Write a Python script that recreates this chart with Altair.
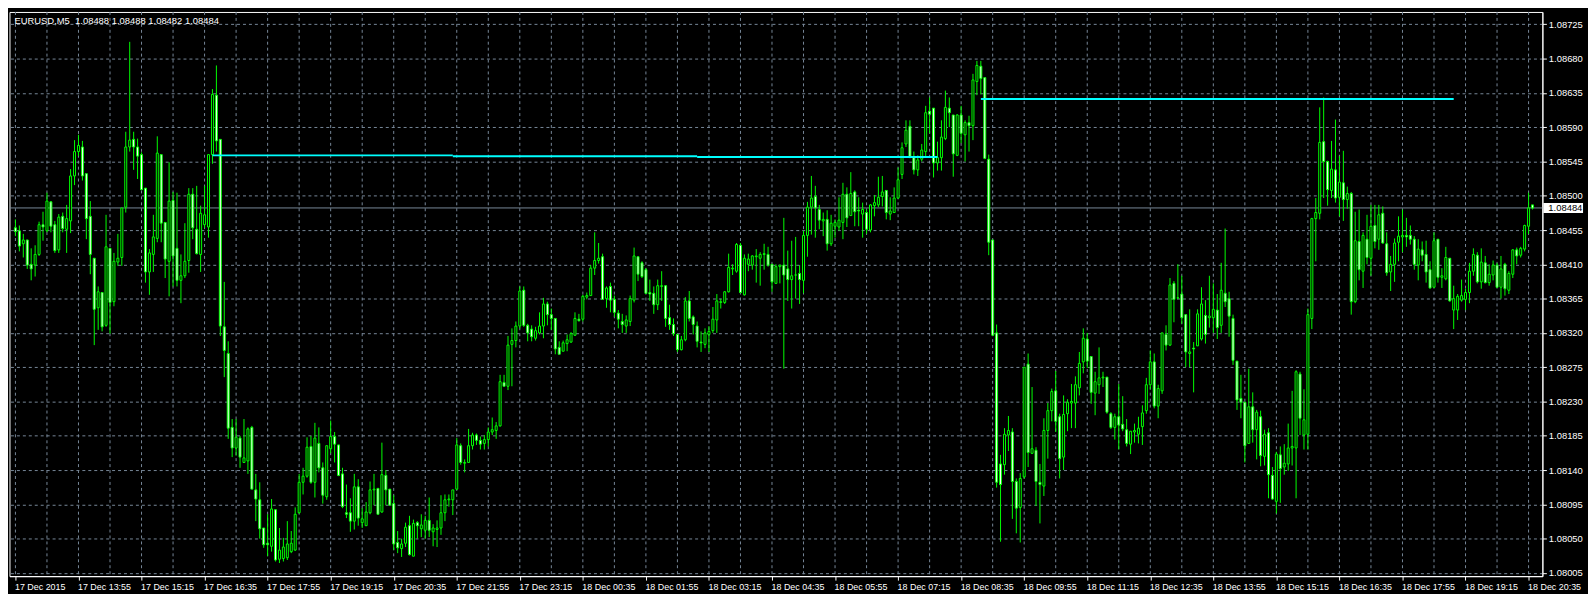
import altair as alt
import pandas as pd

BASE = 1.08
PT = 0.00001

# OHLC in points (0.00001) above 1.08000, one entry per 5-minute bar (17 Dec 12:35 .. 18 Dec 20:40)
open_pts = [
    458, 454, 437, 442, 410, 409, 423, 462, 454, 492,
    462, 429, 473, 456, 467, 526, 558, 564, 529, 473,
    418, 353, 373, 330, 431, 361, 413, 419, 485, 564,
    574, 564, 554, 510, 400, 423, 444, 554, 465, 414,
    494, 431, 389, 395, 415, 502, 456, 423, 462, 459,
    554, 632, 574, 328, 293, 196, 169, 182, 150, 152,
    196, 114, 101, 64, 44, 40, 88, 23, 24, 25,
    33, 35, 84, 124, 132, 171, 124, 175, 143, 105,
    168, 184, 173, 135, 84, 84, 73, 118, 71, 67,
    84, 114, 116, 85, 133, 115, 96, 45, 37, 44,
    67, 27, 71, 63, 61, 74, 59, 62, 64, 84,
    101, 101, 115, 172, 149, 150, 172, 186, 179, 175,
    180, 190, 192, 198, 255, 250, 305, 310, 329, 376,
    330, 325, 313, 320, 329, 358, 344, 339, 301, 296,
    306, 308, 317, 338, 338, 367, 369, 405, 415, 420,
    365, 381, 364, 346, 335, 329, 335, 363, 420, 412,
    403, 373, 372, 357, 381, 382, 340, 331, 318, 298,
    311, 362, 341, 329, 308, 305, 318, 323, 337, 360,
    360, 374, 404, 401, 435, 370, 410, 409, 420, 418,
    423, 423, 410, 385, 407, 409, 404, 390, 396, 398,
    389, 448, 485, 499, 482, 467, 469, 437, 460, 459,
    465, 502, 474, 505, 481, 476, 478, 455, 487, 488,
    499, 507, 476, 478, 497, 528, 568, 591, 551, 534,
    548, 558, 611, 615, 543, 550, 575, 615, 606, 553,
    606, 580, 596, 592, 650, 670, 655, 548, 442, 320,
    148, 147, 186, 190, 125, 91, 131, 279, 162, 166,
    124, 119, 192, 218, 244, 210, 157, 214, 228, 228,
    248, 282, 312, 289, 241, 252, 261, 262, 214, 196,
    210, 200, 193, 174, 190, 187, 197, 218, 252, 282,
    224, 244, 318, 304, 385, 366, 371, 344, 293, 300,
    303, 312, 343, 340, 340, 350, 330, 372, 365, 339,
    283, 234, 229, 175, 223, 193, 210, 158, 189, 133,
    99, 160, 144, 148, 169, 169, 266, 186, 187, 339,
    470, 477, 571, 545, 507, 534, 498, 517, 495, 503,
    361, 440, 401, 443, 418, 461, 443, 477, 437, 400,
    410, 439, 446, 448, 448, 443, 409, 429, 423, 403,
    380, 443, 393, 391, 418, 350, 350, 363, 364, 373,
    401, 422, 387, 412, 386, 396, 409, 380, 410, 376,
    397, 429, 422, 430, 460, 488,
]
high_pts = [
    469, 461, 450, 442, 431, 435, 466, 479, 504, 493,
    467, 476, 478, 488, 535, 573, 580, 572, 529, 493,
    418, 381, 373, 475, 431, 425, 450, 484, 584, 702,
    584, 575, 557, 510, 430, 475, 578, 554, 465, 544,
    505, 504, 423, 464, 510, 510, 513, 487, 513, 554,
    640, 671, 574, 387, 309, 207, 207, 185, 207, 196,
    198, 135, 124, 64, 82, 102, 88, 64, 51, 73,
    60, 91, 135, 143, 183, 185, 202, 196, 150, 172,
    205, 190, 173, 143, 121, 103, 135, 128, 90, 98,
    125, 135, 116, 176, 140, 115, 107, 60, 50, 71,
    80, 75, 73, 82, 80, 104, 69, 74, 107, 108,
    108, 114, 182, 175, 154, 194, 189, 188, 184, 186,
    196, 209, 203, 265, 265, 316, 326, 335, 381, 381,
    332, 330, 328, 347, 366, 361, 352, 339, 309, 310,
    318, 321, 347, 345, 370, 373, 409, 452, 438, 424,
    381, 386, 369, 350, 345, 343, 369, 432, 420, 414,
    405, 390, 381, 390, 401, 382, 357, 339, 318, 316,
    367, 375, 343, 335, 322, 326, 329, 354, 371, 365,
    375, 424, 410, 438, 438, 423, 424, 422, 430, 426,
    437, 433, 410, 410, 409, 471, 428, 441, 446, 409,
    454, 492, 526, 513, 488, 478, 481, 475, 469, 498,
    517, 511, 531, 507, 498, 491, 482, 489, 501, 525,
    526, 507, 498, 511, 537, 570, 599, 599, 558, 553,
    568, 618, 629, 615, 571, 599, 638, 629, 606, 607,
    618, 599, 605, 660, 677, 677, 655, 554, 442, 331,
    160, 195, 211, 195, 129, 136, 275, 293, 249, 170,
    148, 208, 228, 247, 270, 214, 238, 233, 253, 263,
    295, 326, 320, 289, 269, 301, 269, 262, 216, 214,
    253, 237, 207, 191, 201, 210, 225, 261, 297, 293,
    252, 320, 330, 392, 388, 410, 395, 344, 351, 308,
    351, 380, 363, 395, 385, 371, 412, 457, 374, 344,
    283, 265, 229, 273, 242, 219, 218, 193, 195, 144,
    164, 171, 174, 201, 244, 271, 269, 246, 352, 471,
    497, 616, 629, 546, 572, 600, 552, 559, 512, 505,
    479, 482, 452, 475, 488, 488, 488, 486, 452, 421,
    444, 473, 482, 471, 461, 447, 443, 440, 441, 414,
    452, 443, 405, 433, 418, 382, 371, 390, 378, 412,
    431, 426, 431, 421, 410, 415, 412, 421, 412, 401,
    430, 432, 433, 462, 504, 488,
]
low_pts = [
    447, 427, 419, 404, 389, 394, 421, 441, 452, 452,
    425, 425, 452, 425, 451, 514, 552, 520, 443, 397,
    304, 324, 322, 328, 319, 355, 408, 408, 478, 558,
    534, 522, 508, 386, 370, 400, 439, 439, 392, 368,
    381, 381, 359, 392, 399, 443, 423, 400, 458, 445,
    542, 558, 316, 262, 181, 157, 159, 143, 150, 135,
    115, 73, 50, 38, 27, 33, 20, 18, 20, 22,
    31, 34, 83, 108, 130, 122, 104, 137, 96, 101,
    162, 150, 132, 90, 77, 59, 62, 67, 64, 67,
    82, 94, 82, 84, 94, 93, 35, 31, 26, 39,
    28, 27, 50, 52, 50, 52, 40, 39, 55, 73,
    92, 81, 114, 147, 137, 150, 167, 173, 167, 167,
    171, 186, 181, 197, 250, 245, 250, 301, 326, 328,
    309, 309, 310, 318, 313, 330, 324, 292, 292, 296,
    296, 307, 316, 335, 335, 364, 369, 396, 411, 364,
    353, 347, 341, 326, 320, 320, 329, 360, 388, 392,
    371, 362, 345, 350, 362, 328, 324, 316, 295, 297,
    309, 335, 318, 301, 295, 300, 295, 320, 320, 352,
    358, 373, 396, 399, 372, 369, 401, 403, 386, 382,
    403, 407, 374, 385, 385, 273, 362, 352, 365, 358,
    372, 420, 449, 445, 456, 447, 428, 434, 445, 454,
    443, 459, 474, 460, 460, 445, 450, 452, 473, 485,
    486, 469, 468, 478, 496, 522, 564, 550, 528, 526,
    545, 551, 582, 524, 533, 533, 573, 590, 525, 552,
    569, 545, 558, 573, 632, 633, 548, 422, 316, 117,
    46, 134, 165, 76, 57, 45, 129, 144, 161, 93,
    70, 106, 155, 204, 190, 129, 140, 191, 195, 195,
    238, 267, 274, 227, 212, 240, 249, 214, 194, 180,
    167, 191, 171, 161, 176, 175, 173, 214, 246, 221,
    208, 240, 297, 303, 334, 364, 332, 275, 275, 242,
    303, 310, 306, 327, 320, 312, 320, 354, 315, 278,
    219, 208, 150, 175, 176, 154, 145, 146, 103, 101,
    83, 97, 134, 139, 146, 103, 186, 167, 167, 325,
    414, 469, 497, 487, 497, 491, 473, 467, 483, 344,
    359, 389, 379, 410, 395, 431, 429, 437, 395, 375,
    387, 414, 426, 433, 436, 403, 389, 414, 386, 378,
    379, 386, 379, 389, 361, 325, 337, 361, 350, 359,
    395, 385, 378, 385, 382, 389, 379, 365, 369, 371,
    392, 410, 419, 427, 450, 482,
]
close_pts = [
    453, 434, 442, 409, 404, 423, 462, 459, 493, 460,
    428, 472, 457, 470, 526, 558, 566, 526, 470, 423,
    351, 374, 328, 433, 360, 414, 418, 484, 564, 573,
    564, 552, 508, 400, 425, 446, 556, 464, 417, 493,
    421, 389, 395, 414, 502, 458, 424, 477, 475, 554,
    633, 572, 329, 297, 195, 169, 183, 157, 156, 194,
    115, 102, 63, 42, 42, 89, 22, 35, 39, 43,
    44, 82, 124, 132, 170, 124, 182, 143, 107, 172,
    184, 174, 133, 92, 82, 73, 118, 77, 76, 85,
    114, 115, 82, 134, 114, 94, 43, 38, 43, 65,
    29, 70, 67, 68, 74, 61, 64, 64, 84, 101,
    102, 114, 173, 150, 150, 172, 186, 179, 174, 180,
    190, 193, 198, 256, 250, 304, 310, 329, 375, 330,
    320, 315, 323, 329, 358, 344, 339, 299, 292, 307,
    311, 319, 339, 336, 368, 369, 405, 415, 418, 364,
    379, 363, 347, 338, 331, 337, 365, 421, 397, 394,
    372, 371, 357, 382, 382, 339, 331, 319, 298, 311,
    362, 339, 331, 309, 307, 320, 322, 338, 362, 361,
    374, 406, 405, 436, 373, 418, 417, 421, 421, 423,
    424, 409, 387, 407, 409, 396, 390, 395, 396, 390,
    448, 485, 497, 484, 468, 469, 437, 464, 465, 468,
    502, 471, 503, 479, 480, 482, 456, 488, 491, 498,
    505, 478, 480, 497, 521, 563, 586, 550, 534, 547,
    560, 609, 607, 543, 550, 577, 616, 609, 555, 606,
    582, 596, 592, 652, 671, 654, 549, 439, 317, 124,
    121, 187, 192, 125, 90, 129, 275, 163, 168, 125,
    121, 192, 218, 243, 204, 155, 213, 229, 230, 252,
    280, 313, 283, 242, 256, 261, 262, 216, 196, 210,
    199, 194, 175, 191, 192, 195, 215, 252, 282, 224,
    247, 320, 304, 383, 364, 366, 340, 295, 295, 299,
    345, 358, 318, 342, 351, 327, 376, 361, 342, 284,
    232, 229, 172, 223, 193, 216, 159, 187, 134, 102,
    161, 142, 149, 169, 171, 269, 208, 206, 344, 470,
    478, 570, 545, 508, 535, 497, 518, 495, 503, 361,
    441, 403, 448, 419, 460, 440, 475, 438, 399, 410,
    438, 447, 448, 446, 443, 410, 430, 422, 400, 379,
    441, 393, 395, 419, 362, 365, 368, 369, 373, 401,
    423, 387, 413, 386, 397, 409, 380, 404, 378, 398,
    429, 421, 431, 461, 484, 484,
]

time_labels = [
    "17 Dec 2015", "17 Dec 13:55", "17 Dec 15:15", "17 Dec 16:35", "17 Dec 17:55",
    "17 Dec 19:15", "17 Dec 20:35", "17 Dec 21:55", "17 Dec 23:15", "18 Dec 00:35",
    "18 Dec 01:55", "18 Dec 03:15", "18 Dec 04:35", "18 Dec 05:55", "18 Dec 07:15",
    "18 Dec 08:35", "18 Dec 09:55", "18 Dec 11:15", "18 Dec 12:35", "18 Dec 13:55",
    "18 Dec 15:15", "18 Dec 16:35", "18 Dec 17:55", "18 Dec 19:15", "18 Dec 20:35",
]
price_ticks = [1.08005, 1.08050, 1.08095, 1.08140, 1.08185, 1.08230, 1.08275, 1.08320,
               1.08365, 1.08410, 1.08455, 1.08500, 1.08545, 1.08590, 1.08635, 1.08680, 1.08725]

level_start = [50, 111, 173, 245]
level_end = [111, 173, 234, 365]
level_price = [1.08553, 1.08552, 1.08551, 1.08627]

bid_price = 1.08484
header = "EURUSD,M5\u00a0 1.08488 1.08488 1.08482 1.08484"

LIME = "#00ff00"
GRID = "#778899"
FONT = "Liberation Sans"
W, H = 1546, 569

n = len(close_pts)
df = pd.DataFrame({
    "i": list(range(n)),
    "o": [round(BASE + v * PT, 5) for v in open_pts],
    "h": [round(BASE + v * PT, 5) for v in high_pts],
    "l": [round(BASE + v * PT, 5) for v in low_pts],
    "c": [round(BASE + v * PT, 5) for v in close_pts],
})
df["h"] = df[["h", "o", "c"]].max(axis=1)
df["l"] = df[["l", "o", "c"]].min(axis=1)

xscale = alt.Scale(domain=[-0.25, 386.25], nice=False, zero=False)
yscale = alt.Scale(domain=[1.080008, 1.087412], nice=False, zero=False)

label_js = "[" + ",".join("'%s'" % t for t in time_labels) + "]"
xaxis = alt.Axis(
    orient="bottom", values=list(range(0, n, 16)),
    labelExpr=label_js + "[round(datum.value/16)]",
    grid=False, tickSize=4, tickColor="#ffffff", domainColor="#ffffff",
    labelColor="#ffffff", labelAlign="left", labelBaseline="top", labelPadding=2,
    labelOffset=-1, labelFont=FONT, labelFontSize=9, labelOverlap=False,
    labelFlush=False, title=None,
)
yaxis = alt.Axis(
    orient="right", values=price_ticks, format=".5f", grid=True,
    gridColor=GRID, gridDash=[3, 3], gridWidth=1, gridOpacity=1,
    tickSize=4, tickColor="#ffffff", domainColor="#ffffff", labelColor="#ffffff",
    labelPadding=2, labelFont=FONT, labelFontSize=9.5, labelBaseline="middle",
    labelAlign="left", labelOverlap=False, labelFlush=False, title=None,
)


def X(field):
    return alt.X(field, scale=xscale, axis=xaxis)


def Y(field):
    return alt.Y(field, scale=yscale, axis=yaxis)


vgrid = alt.Chart(pd.DataFrame({"g": list(range(0, n, 8))})).mark_rule(
    color=GRID, strokeDash=[3, 3], strokeWidth=1
).encode(x=X("g:Q"))

bid_df = pd.DataFrame({"p": [bid_price], "t": ["%.5f" % bid_price]})
bidline = alt.Chart(bid_df).mark_rule(color=GRID, strokeWidth=1).encode(y=Y("p:Q"))

wicks = alt.Chart(df).mark_rule(color=LIME, strokeWidth=1).encode(
    x=X("i:Q"), y=Y("l:Q"), y2="h:Q"
)
bodies = alt.Chart(df).mark_bar(size=2, stroke=LIME, strokeWidth=1, orient="vertical").encode(
    x=X("i:Q"), y=Y("o:Q"), y2="c:Q",
    fill=alt.condition("datum.c < datum.o", alt.value("#ffffff"), alt.value("#000000")),
)

lv = pd.DataFrame({"s": level_start, "e": level_end, "p": level_price})
levels = alt.Chart(lv).mark_rule(color="#00ffff", strokeWidth=2).encode(
    x=X("s:Q"), x2="e:Q", y=Y("p:Q")
)

bidbox = alt.Chart(bid_df).mark_rule(color="#ffffff", strokeWidth=10).encode(
    x=alt.value(W + 1), x2=alt.value(W + 41), y=Y("p:Q")
)
bidtext = alt.Chart(bid_df).mark_text(
    align="left", baseline="middle", color="#000000", font=FONT, fontSize=9.5
).encode(x=alt.value(W + 6), y=Y("p:Q"), text="t:N")

headtext = alt.Chart(pd.DataFrame({"t": [header]})).mark_text(
    align="left", baseline="alphabetic", color="#ffffff", font=FONT, fontSize=9.5
).encode(x=alt.value(5), y=alt.value(12), text="t:N")

chart = alt.layer(vgrid, bidline, wicks, bodies, levels, bidbox, bidtext, headtext).properties(
    width=W, height=H,
    padding={"left": 0.5, "top": 0.5, "right": 0, "bottom": 0},
    background="#000000",
).configure_view(stroke="#ffffff", strokeWidth=1)

chart.save("out.html", embed_options={"renderer": "svg", "actions": False})
